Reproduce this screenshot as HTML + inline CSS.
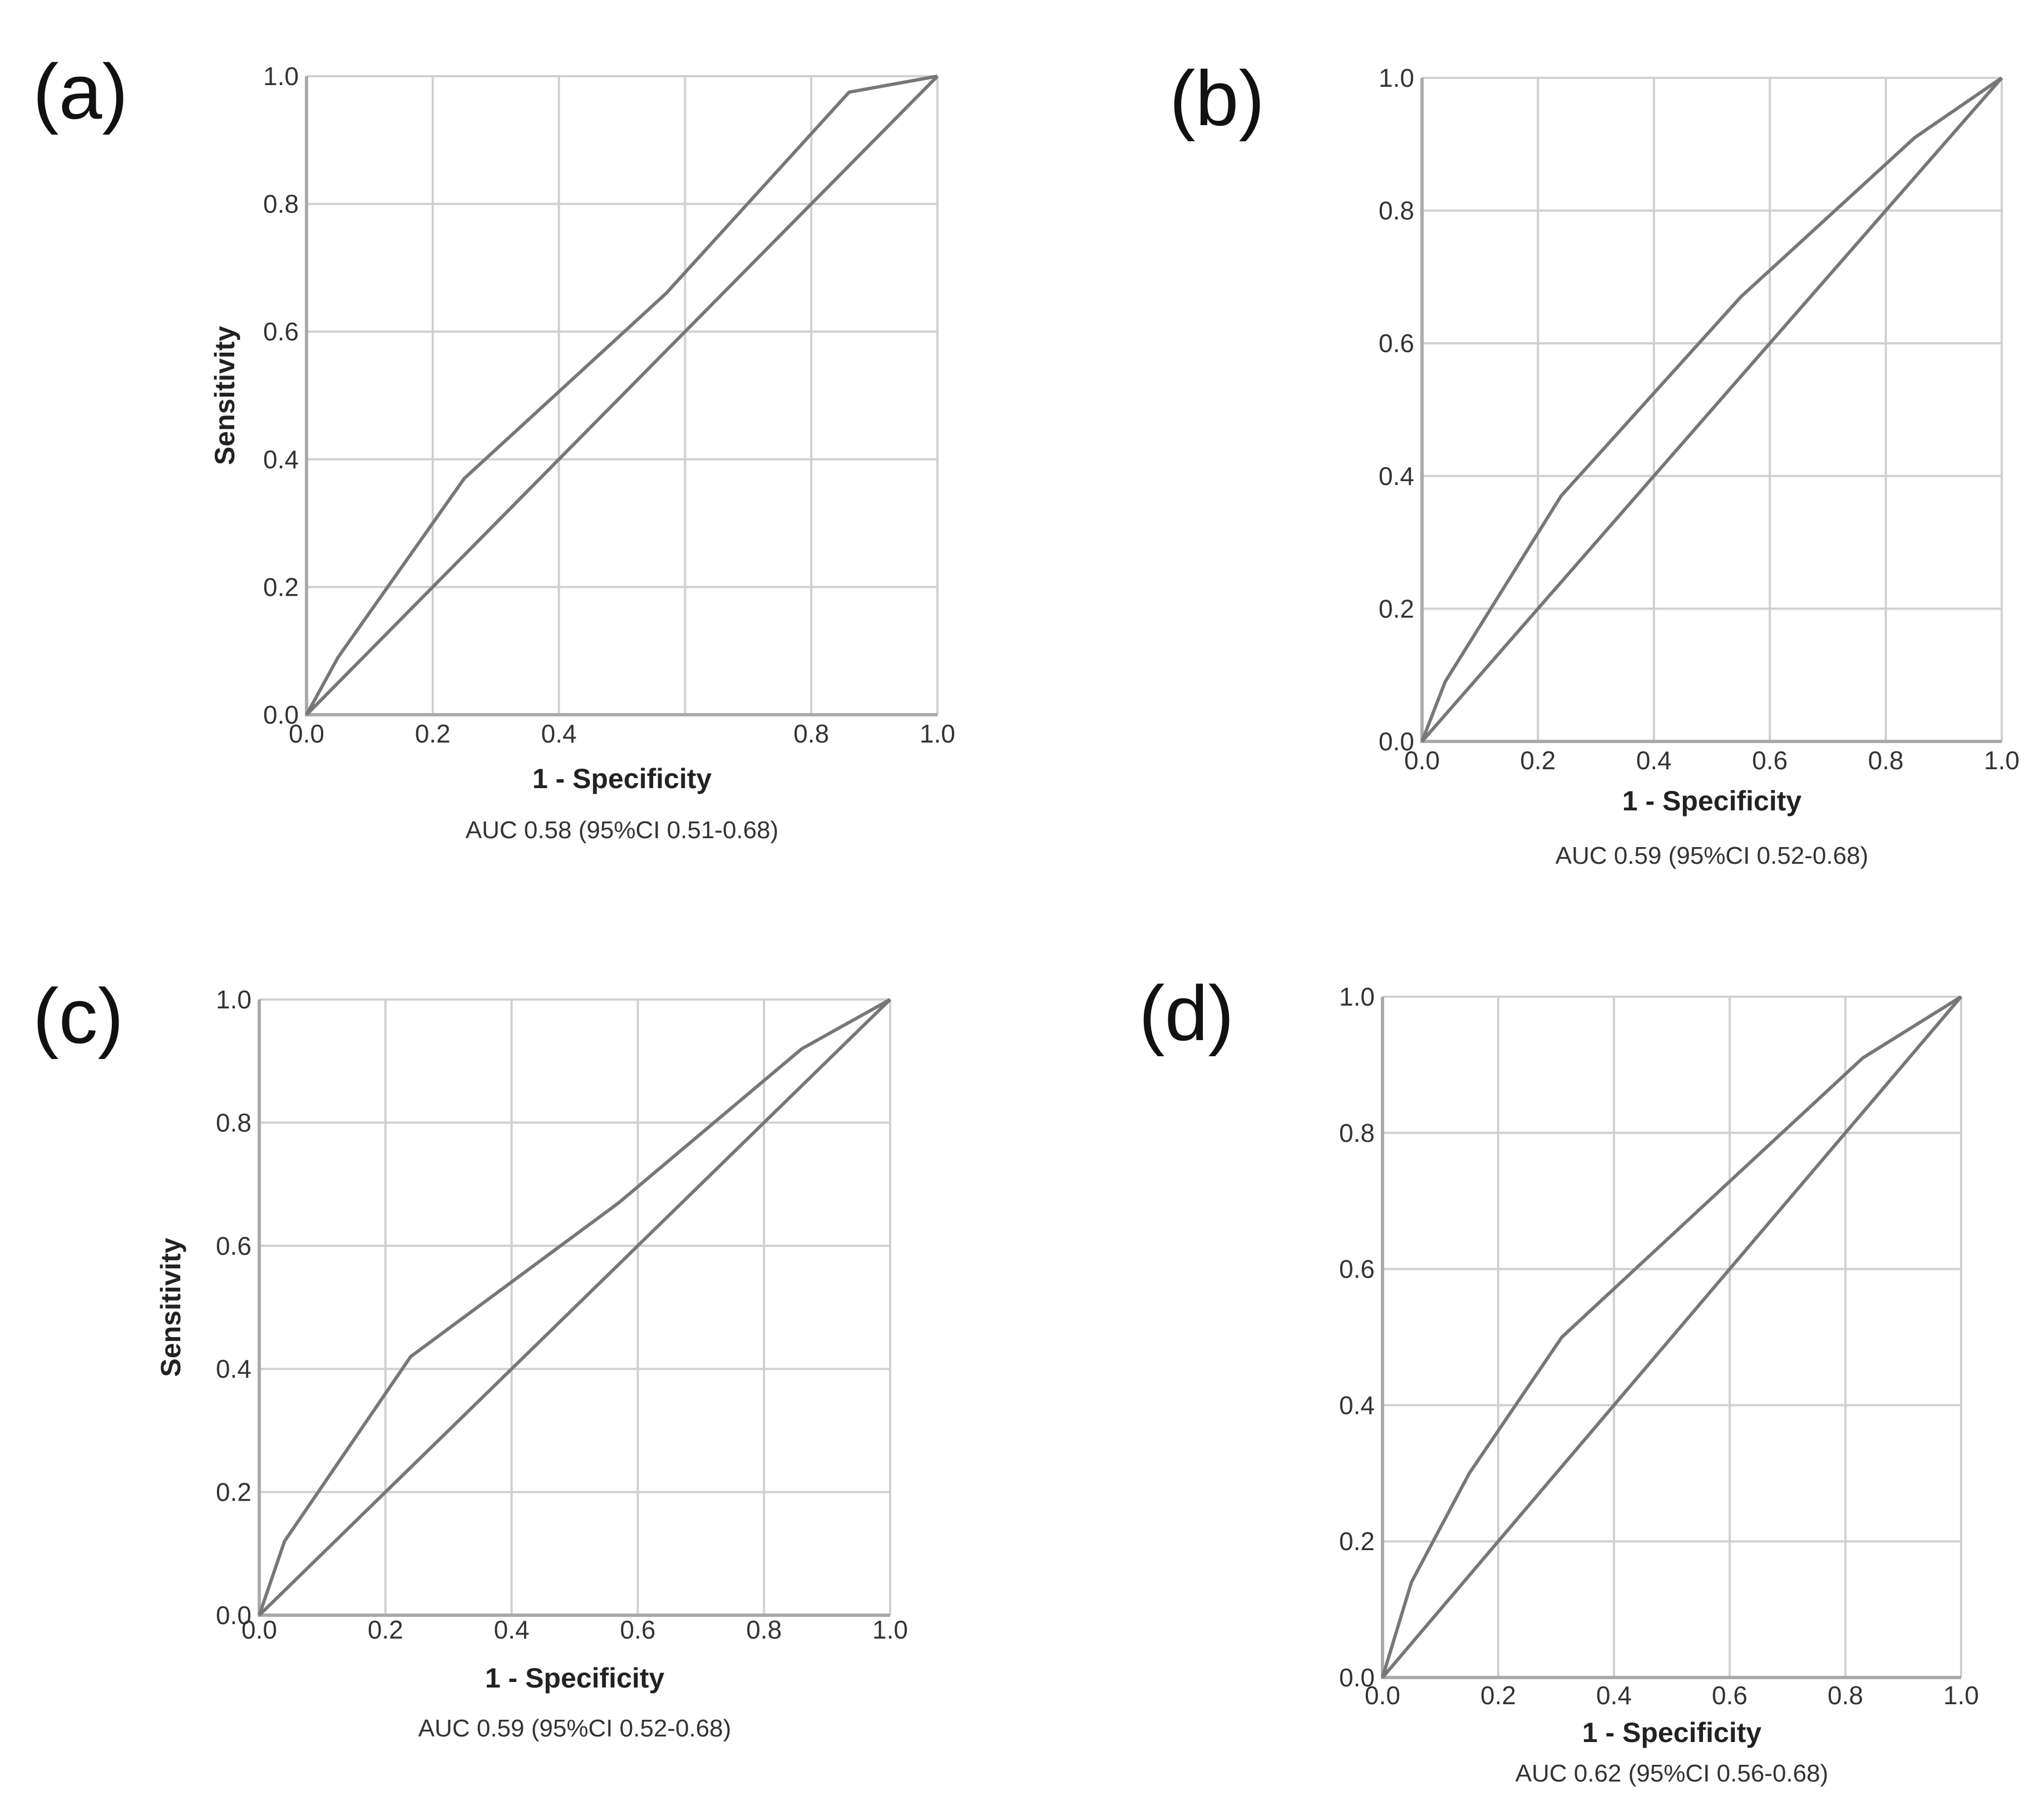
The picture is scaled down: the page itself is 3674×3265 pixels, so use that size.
<!DOCTYPE html>
<html><head><meta charset="utf-8"><style>
html,body{margin:0;padding:0;background:#fff;}
svg{display:block;font-family:"Liberation Sans",sans-serif;}
</style></head><body>
<svg id="fig" width="3674" height="3265" viewBox="0 0 3674 3265" xmlns="http://www.w3.org/2000/svg"></svg>
<script>
const ticks = [0, 0.2, 0.4, 0.6, 0.8, 1.0];
const tickLabels = ["0.0","0.2","0.4","0.6","0.8","1.0"];
const panelIds = ["a","b","c","d"];
const aucLabels = ["AUC 0.58 (95%CI 0.51-0.68)","AUC 0.59 (95%CI 0.52-0.68)","AUC 0.59 (95%CI 0.52-0.68)","AUC 0.62 (95%CI 0.56-0.68)"];
const rocXa = [0, 0.05, 0.25, 0.57, 0.86, 1];
const rocYa = [0, 0.09, 0.37, 0.66, 0.975, 1];
const rocXb = [0, 0.04, 0.24, 0.55, 0.85, 1];
const rocYb = [0, 0.09, 0.37, 0.67, 0.91, 1];
const rocXc = [0, 0.04, 0.24, 0.57, 0.86, 1];
const rocYc = [0, 0.12, 0.42, 0.67, 0.92, 1];
const rocXd = [0, 0.05, 0.15, 0.31, 0.83, 1];
const rocYd = [0, 0.14, 0.30, 0.50, 0.91, 1];
const refX = [0, 1];
const refY = [0, 1];

const layouts = [
 {x0:551,x1:1685,y0:1285,y1:137,lx:59,ly:213,tk:50,tt:132,au:222,sens:421,hide:[0.6]},
 {x0:2556,x1:3598,y0:1333,y1:140,lx:2102,ly:225,tk:50,tt:124,au:220,sens:null,hide:[]},
 {x0:466,x1:1600,y0:2904,y1:1797,lx:59,ly:1875,tk:42,tt:130,au:218,sens:324,hide:[]},
 {x0:2485,x1:3525,y0:3016,y1:1792,lx:2047,ly:1870,tk:48,tt:116,au:187,sens:null,hide:[]}
];
const series = [[rocXa,rocYa],[rocXb,rocYb],[rocXc,rocYc],[rocXd,rocYd]];
const svg = document.getElementById('fig');
const NS = "http://www.w3.org/2000/svg";
function mk(tag, attrs, parent){
  const e = document.createElementNS(NS, tag);
  for (const k in attrs) e.setAttribute(k, attrs[k]);
  parent.appendChild(e); return e;
}
layouts.forEach((L, i) => {
  const g = mk('g', {}, svg);
  
  
  const sx = v => L.x0 + v * (L.x1 - L.x0);
  const sy = v => L.y0 + v * (L.y1 - L.y0);
  const lab = mk('text', {x:L.lx, y:L.ly, 'font-size':140, fill:'#111'}, g);
  lab.textContent = '(' + panelIds[i] + ')';
  
  
  ticks.forEach((t, j) => {
    const gx = mk('line', {x1:sx(t), x2:sx(t), y1:L.y0, y2:L.y1, stroke:'#d0d0d0', 'stroke-width':4}, g);
    
    
    const gy = mk('line', {x1:L.x0, x2:L.x1, y1:sy(t), y2:sy(t), stroke:'#d0d0d0', 'stroke-width':4}, g);
    
    
    const yl = mk('text', {x:L.x0 - 14, y:sy(t) + 16, 'font-size':46, 'text-anchor':'end', fill:'#333'}, g);
    yl.textContent = tickLabels[j];
    
    
    if (L.hide.indexOf(t) < 0) {
      const xl = mk('text', {x:sx(t), y:L.y0 + L.tk, 'font-size':46, 'text-anchor':'middle', fill:'#333'}, g);
      xl.textContent = tickLabels[j];
      
      
    }
  });
  const ax = mk('path', {d:`M${L.x0},${L.y1} L${L.x0},${L.y0} L${L.x1},${L.y0}`, stroke:'#aaa', 'stroke-width':6, fill:'none'}, g);
  
  
  const ref = mk('polyline', {points: refX.map((v,k)=>sx(v)+','+sy(refY[k])).join(' '), stroke:'#777', 'stroke-width':6, fill:'none'}, g);
  
  
  const [xs, ys] = series[i];
  const roc = mk('polyline', {points: xs.map((v,k)=>sx(v)+','+sy(ys[k])).join(' '), stroke:'#777', 'stroke-width':6, fill:'none', 'stroke-linejoin':'round'}, g);
  
  
  const xt = mk('text', {x:(L.x0+L.x1)/2, y:L.y0 + L.tt, 'font-size':50, 'font-weight':'bold', 'text-anchor':'middle', fill:'#222'}, g);
  xt.textContent = '1 - Specificity';
  
  
  const au = mk('text', {x:(L.x0+L.x1)/2, y:L.y0 + L.au, 'font-size':44, 'text-anchor':'middle', fill:'#333'}, g);
  au.textContent = aucLabels[i];
  
  
  if (L.sens !== null) {
    const cy = (L.y0 + L.y1) / 2;
    const st = mk('text', {x:L.sens, y:cy, 'font-size':50, 'font-weight':'bold', 'text-anchor':'middle', fill:'#222', transform:`rotate(-90 ${L.sens} ${cy})`}, g);
    st.textContent = 'Sensitivity';
    
    
  }
});
</script>
</body></html>
